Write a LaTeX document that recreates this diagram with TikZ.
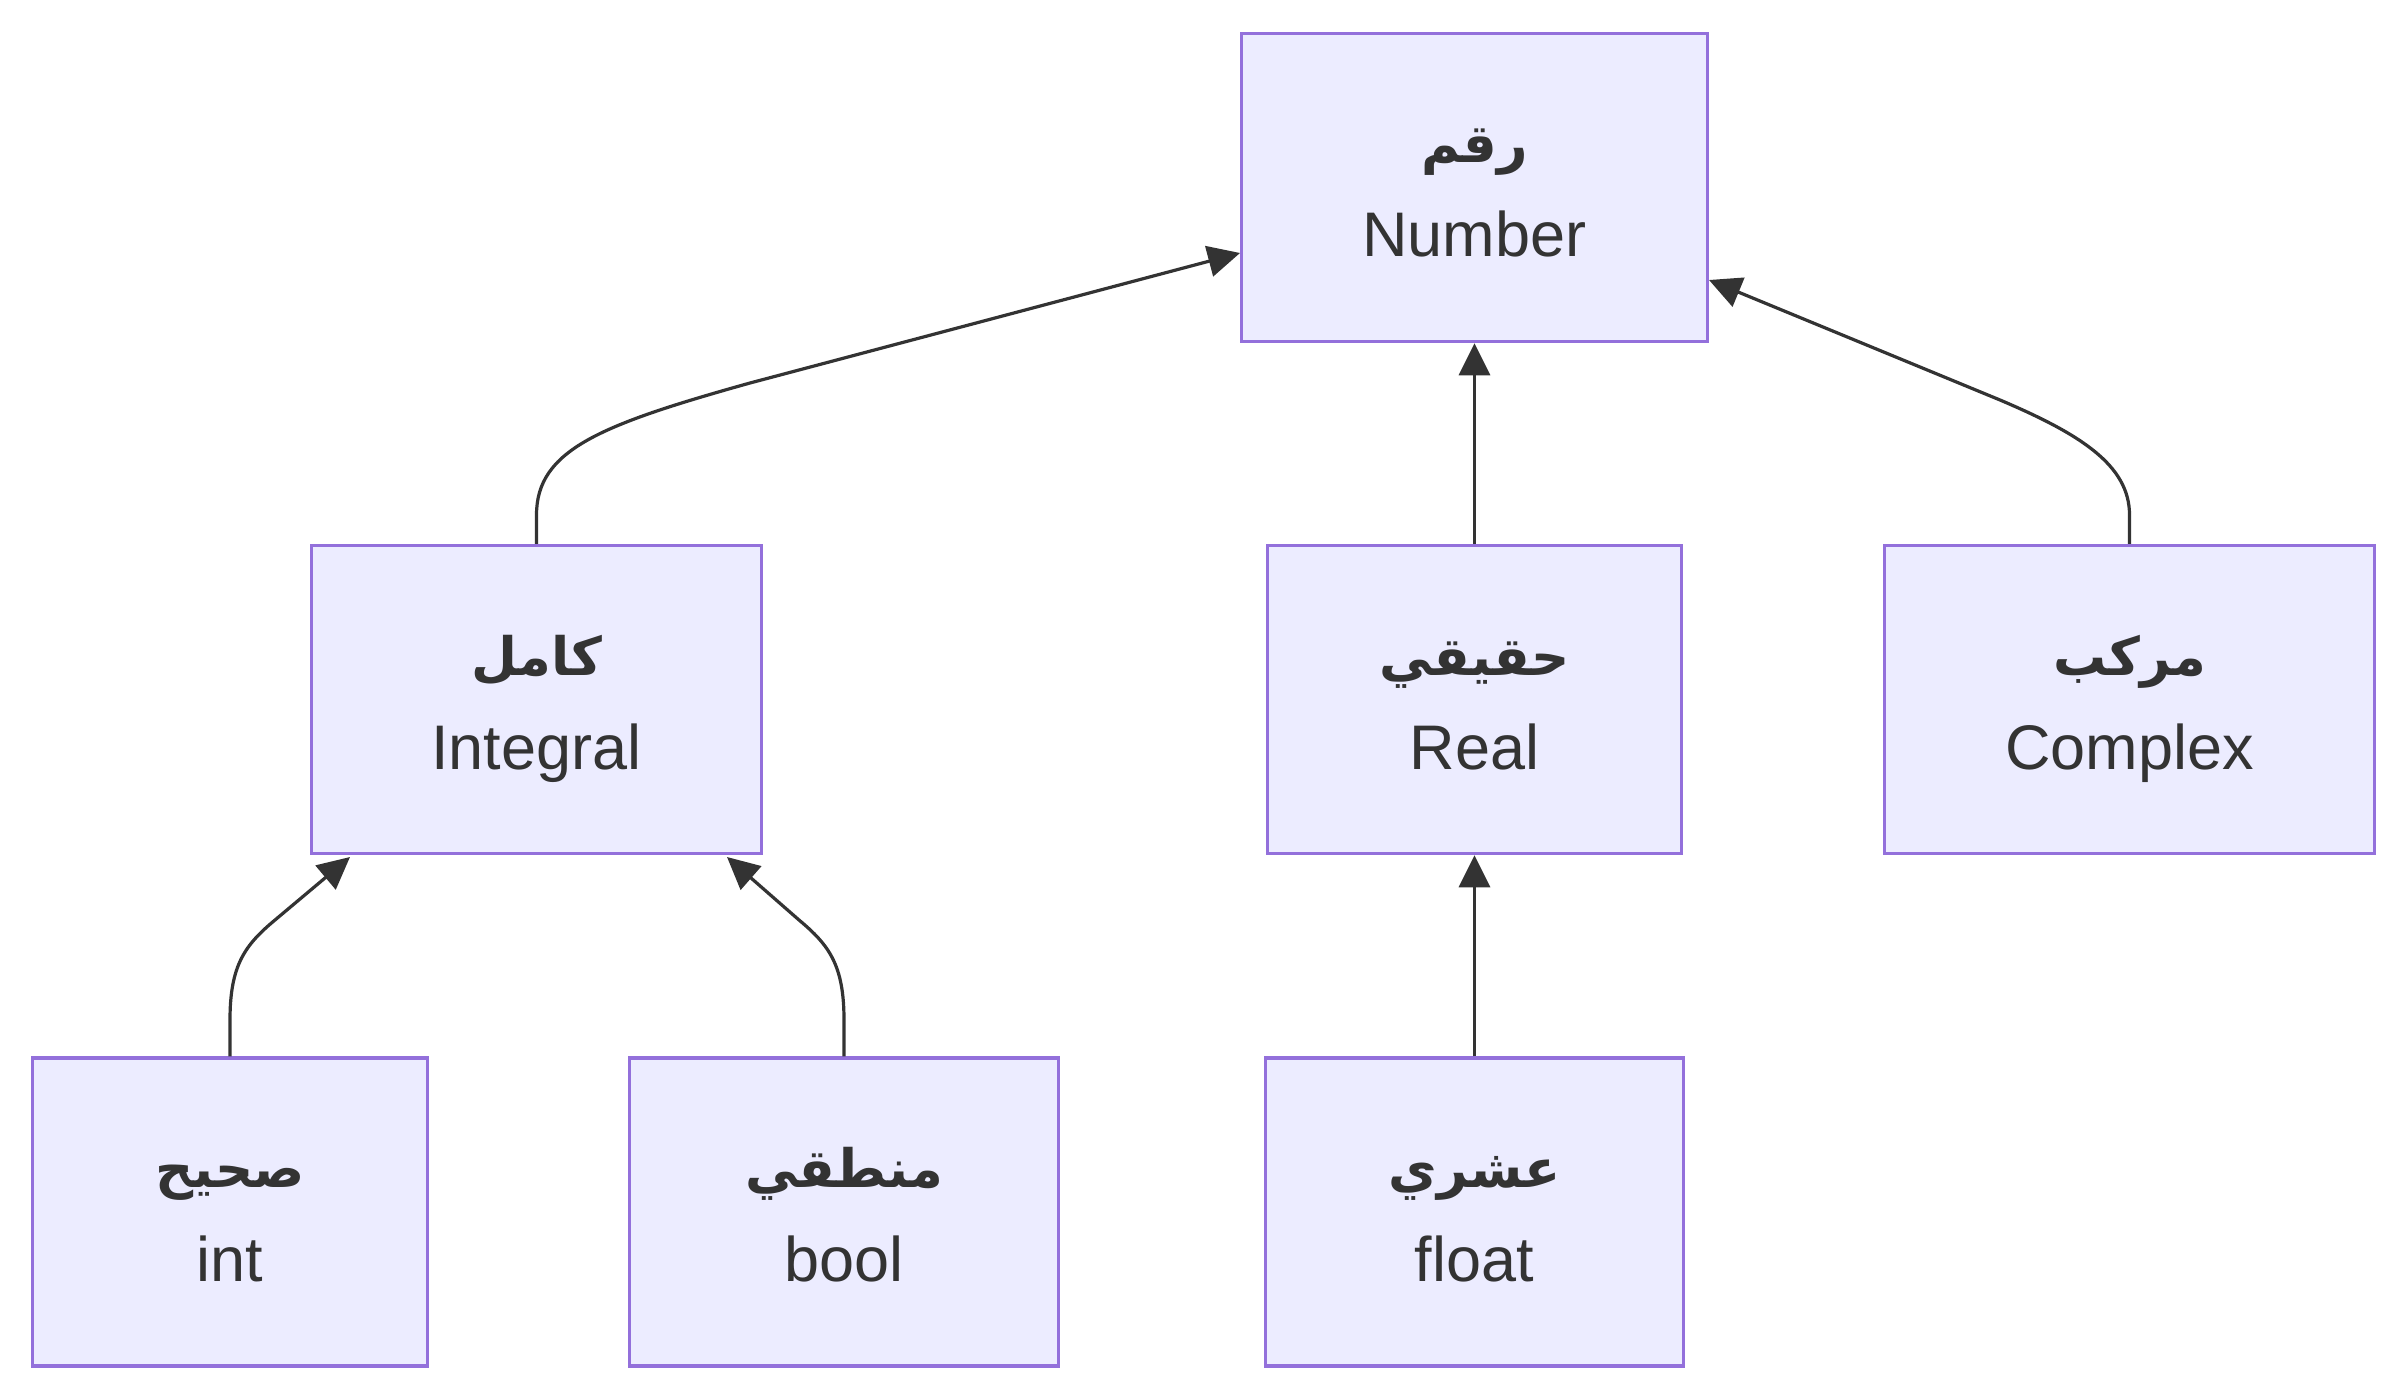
\documentclass[tikz,border=0pt]{standalone}
\usepackage{fontspec}
\setmainfont{Liberation Sans}
\newfontfamily\arabicfont[Script=Arabic]{DejaVu Sans}
\TeXXeTstate=1
\usetikzlibrary{arrows.meta}
\definecolor{boxfill}{HTML}{ECECFF}
\definecolor{boxdraw}{HTML}{9370DB}
\definecolor{ink}{HTML}{333333}
\begin{document}
\begin{tikzpicture}[x=1pt,y=-1pt,
  box/.style={draw=boxdraw,fill=boxfill,line width=3.5pt,rectangle,inner sep=0pt,minimum height=308pt},
  artext/.style={anchor=base,text=ink,inner sep=0pt,font=\arabicfont\bfseries\fontsize{53}{64}\selectfont},
  latext/.style={anchor=base,text=ink,inner sep=0pt,font=\fontsize{63}{75}\selectfont},
  edge/.style={draw=ink,line width=3.2pt,-{Triangle[length=32pt,width=31pt]}}]
\useasboundingbox[fill=white] (0,0) rectangle (2408,1396);
% boxes
\node[box,minimum width=466pt] (num)   at (1474.5,187.5) {};
\node[box,minimum width=450pt] (integ) at (536.5,699.5) {};
\node[box,minimum width=414pt] (real)  at (1474.5,699.5) {};
\node[box,minimum width=490pt] (cplx)  at (2129.5,699.5) {};
\node[box,minimum width=395pt] (int)   at (230,1212) {};
\node[box,minimum width=429pt] (bool)  at (844,1212) {};
\node[box,minimum width=418pt] (float) at (1474.5,1212) {};
% texts
\node[artext] (numA)   at (1474.5,163) {\beginR رقم\endR};
\node[latext] (numL)   at (1474.5,257) {Number};
\node[artext] (integA) at (536.5,675) {\beginR كامل\endR};
\node[latext] (integL) at (536.5,769) {Integral};
\node[artext] (realA)  at (1474.5,675) {\beginR حقيقي\endR};
\node[latext] (realL)  at (1474.5,769) {Real};
\node[artext] (cplxA)  at (2129.5,675) {\beginR مركب\endR};
\node[latext] (cplxL)  at (2129.5,769) {Complex};
\node[artext] (intA)   at (230,1187) {\beginR صحيح\endR};
\node[latext] (intL)   at (230,1281) {int};
\node[artext] (boolA)  at (844,1187) {\beginR منطقي\endR};
\node[latext] (boolL)  at (844,1281) {bool};
\node[artext] (floatA) at (1474.5,1187) {\beginR عشري\endR};
\node[latext] (floatL) at (1474.5,1281) {float};
% edge end points
\coordinate (numInL) at (1240,253);
\coordinate (numInR) at (1709,280);
\coordinate (integInL) at (350,857);
\coordinate (integInR) at (727,857);
% edges
\draw[edge] (integ.north) -- (536.5,515) .. controls (536.5,450) and (600,425) .. (750,383) -- (numInL);
\draw[edge] (real.north) -- (num.south);
\draw[edge] (cplx.north) -- (2129.5,515) .. controls (2129.5,465) and (2080,434) .. (2000,400) -- (numInR);
\draw[edge] (int.north) -- (230,1020) .. controls (230,965) and (245,945) .. (275,920) -- (integInL);
\draw[edge] (bool.north) -- (844,1020) .. controls (844,965) and (829,945) .. (799,920) -- (integInR);
\draw[edge] (float.north) -- (real.south);
\end{tikzpicture}
\end{document}
